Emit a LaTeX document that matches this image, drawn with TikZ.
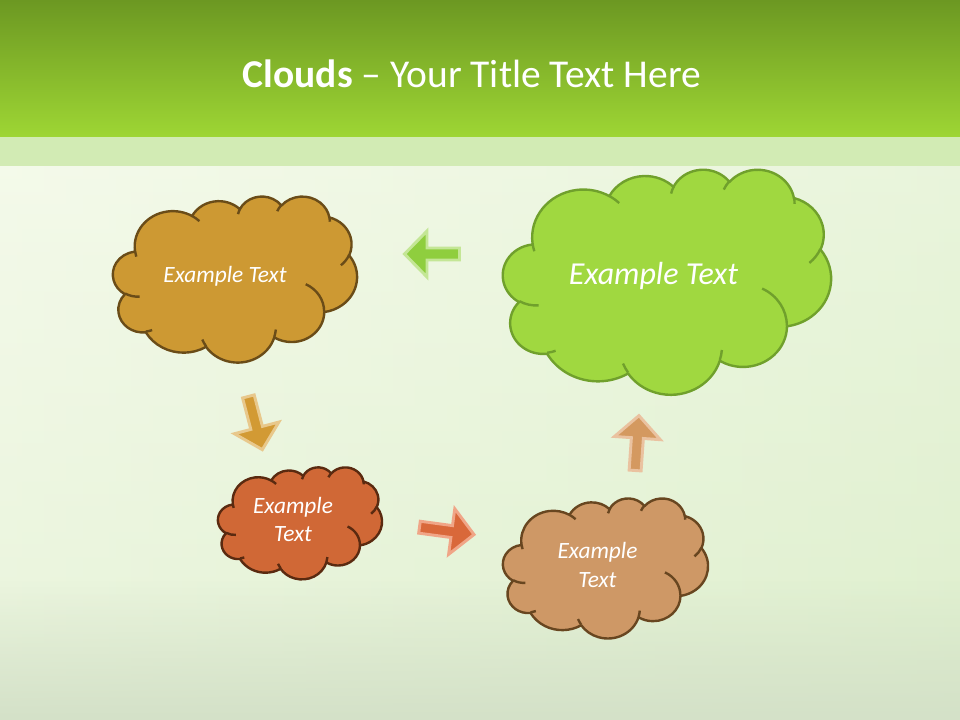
\documentclass[tikz,border=0pt]{standalone}
\usepackage{fontspec}
\setmainfont{Carlito}
\usepackage{tikz}
\usetikzlibrary{fadings}

\definecolor{bandtop}{RGB}{108,152,34}
\definecolor{bandbot}{RGB}{158,214,52}
\definecolor{strip}{RGB}{210,235,180}
\definecolor{bodyleft}{RGB}{244,250,234}
\definecolor{bodyright}{RGB}{222,239,205}
\definecolor{grass}{RGB}{212,225,200}
\definecolor{goldfill}{RGB}{205,153,51}
\definecolor{goldline}{RGB}{106,76,24}
\definecolor{limefill}{RGB}{160,216,64}
\definecolor{limeline}{RGB}{112,160,44}
\definecolor{rustfill}{RGB}{208,104,54}
\definecolor{rustline}{RGB}{90,42,16}
\definecolor{tanfill}{RGB}{206,152,102}
\definecolor{tanline}{RGB}{104,70,32}

\tikzset{
  cloudline/.style={line width=1.8pt, line join=round},
  arrowblock/.style={line width=2.2pt, line join=miter},
  cloudtext/.style={text=white, inner sep=0pt, align=center, font=\itshape\fontsize{17.5pt}{21.7pt}\selectfont},
}

% cloud outline in a 432 x 432 box: x, y, width, height, fill, line
\newcommand{\pptcloud}[6]{%
  \pgfmathsetmacro\cloudxu{#3*0.75/432}%
  \pgfmathsetmacro\cloudyu{#4*0.75/432}%
  \begin{scope}[shift={(#1,#2)}, x=\cloudxu pt, y=-\cloudyu pt]
    \filldraw[cloudline, fill=#5, draw=#6]
      (39.00,143.70)
      arc[start angle=-187.746, delta angle=128.112, x radius=67.53, y radius=91.90]
      arc[start angle=-152.024, delta angle=106.571, x radius=53.33, y radius=72.67]
      arc[start angle=-153.488, delta angle=116.160, x radius=43.65, y radius=59.45]
      arc[start angle=-139.715, delta angle=129.503, x radius=48.57, y radius=65.95]
      arc[start angle=-74.768, delta angle=97.978, x radius=53.33, y radius=72.73]
      arc[start angle=-37.527, delta angle=119.389, x radius=67.75, y radius=92.20]
      arc[start angle=0.460, delta angle=121.516, x radius=57.85, y radius=78.67]
      arc[start angle=16.845, delta angle=129.392, x radius=67.52, y radius=92.15]
      arc[start angle=58.989, delta angle=91.196, x radius=77.20, y radius=105.43]
      arc[start angle=-276.694, delta angle=139.801, x radius=43.60, y radius=59.18]
      arc[start angle=-239.646, delta angle=143.759, x radius=43.45, y radius=59.45]
      -- cycle;
    \draw[cloudline, draw=#6]
      (46.93,261.77) arc[start angle=85.546, delta angle=34.808, x radius=43.45, y radius=59.45]
      (69.28,348.99) arc[start angle=68.228, delta angle=15.078, x radius=43.60, y radius=59.18]
      (164.78,390.90) arc[start angle=146.237, delta angle=12.236, x radius=67.52, y radius=92.15]
      (288.27,347.51) arc[start angle=4.738, delta angle=12.107, x radius=67.52, y radius=92.15]
      (341.29,229.54) arc[start angle=-64.028, delta angle=64.488, x radius=57.85, y radius=78.67]
      (417.98,153.54) arc[start angle=23.209, delta angle=26.430, x radius=53.33, y radius=72.73]
      (383.24,54.26) arc[start angle=-10.212, delta angle=11.032, x radius=48.57, y radius=65.95]
      (290.78,39.52) arc[start angle=-156.282, delta angle=16.567, x radius=48.57, y radius=65.95]
      (221.41,47.20) arc[start angle=-167.720, delta angle=14.232, x radius=43.65, y radius=59.45]
      (140.00,51.92) arc[start angle=-59.634, delta angle=13.901, x radius=67.53, y radius=91.90]
      (41.27,157.89) arc[start angle=163.193, delta angle=9.061, x radius=67.53, y radius=91.90];
  \end{scope}}

\begin{document}
\begin{tikzpicture}[x=0.75pt, y=-0.75pt]
  \useasboundingbox (0,0) rectangle (960,720);

  % background
  \shade[left color=bodyleft, right color=bodyright] (0,166) rectangle (960,720);
  \shade[top color=bodyleft, bottom color=bodyright, opacity=0.5] (0,166) rectangle (960,720);
  \fill[grass, path fading=north] (0,580) rectangle (960,720);
  \shade[top color=bandtop, bottom color=bandbot] (0,0) rectangle (960,137);
  \fill[strip] (0,137) rectangle (960,166);

  \node[text=white, anchor=base, font=\fontsize{29.6pt}{35pt}\selectfont] (title) at (472,88)
    {\textbf{Clouds} – Your Title Text Here};

  % clouds
  \pptcloud{113}{196}{244}{166}{goldfill}{goldline}
  \pptcloud{503}{169}{328}{225}{limefill}{limeline}
  \pptcloud{218}{467}{164}{112}{rustfill}{rustline}
  \pptcloud{503}{498}{205}{140}{tanfill}{tanline}

  \node[cloudtext] (gold) at (225,276.5) {Example Text};
  \node[cloudtext, font=\itshape\fontsize{24pt}{29pt}\selectfont] (lime) at (653.5,276) {Example Text};
  \node[cloudtext] (rust) at (293,519.5) {Example\\Text};
  \node[cloudtext] (tan) at (597.5,565) {Example\\Text};

  % arrows
  \begin{scope}[shift={(461,254)}, rotate=180]
    \filldraw[arrowblock, fill={rgb,255:red,143;green,206;blue,62}, draw={rgb,255:red,196;green,230;blue,150}]
      (1.5,-6) -- (34,-6) -- (34,-23) -- (56.5,0) -- (34,23) -- (34,6) -- (1.5,6) -- cycle;
  \end{scope}
  \begin{scope}[shift={(248,395)}, rotate=-75.3]
    \filldraw[arrowblock, fill={rgb,255:red,210;green,154;blue,52}, draw={rgb,255:red,232;green,200;blue,140}]
      (1.5,-6) -- (34,-6) -- (34,-23) -- (56.5,0) -- (34,23) -- (34,6) -- (1.5,6) -- cycle;
  \end{scope}
  \begin{scope}[shift={(418,527)}, rotate=-7.7]
    \filldraw[arrowblock, fill={rgb,255:red,217;green,104;blue,58}, draw={rgb,255:red,240;green,165;blue,135}]
      (1.5,-6) -- (34,-6) -- (34,-23) -- (56.5,0) -- (34,23) -- (34,6) -- (1.5,6) -- cycle;
  \end{scope}
  \begin{scope}[shift={(635,472)}, rotate=86]
    \filldraw[arrowblock, fill={rgb,255:red,212;green,153;blue,96}, draw={rgb,255:red,234;green,194;blue,160}]
      (1.5,-6) -- (34,-6) -- (34,-23) -- (56.5,0) -- (34,23) -- (34,6) -- (1.5,6) -- cycle;
  \end{scope}
\end{tikzpicture}
\end{document}
